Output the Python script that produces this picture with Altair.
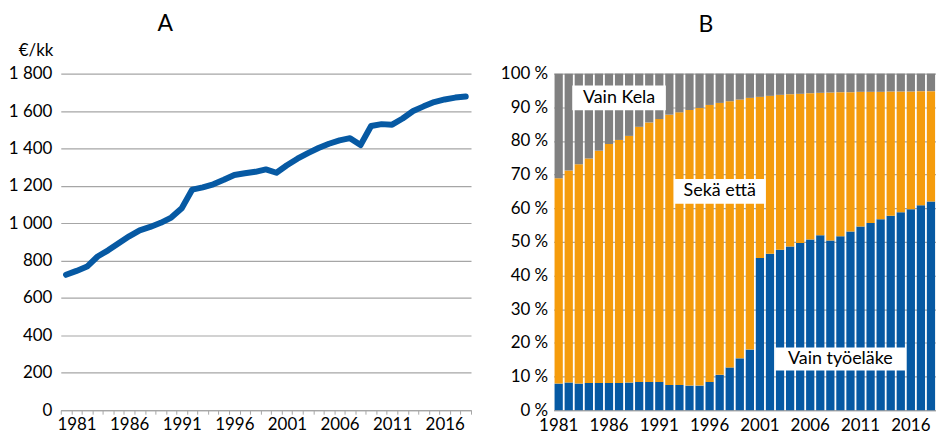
import altair as alt
import pandas as pd

FONT = "Lato"
BLUE = "#0659A3"
ORANGE = "#F59C0C"
GRAY = "#808080"
GRID = "#A6A6A6"

# ---- Panel A: average pension, EUR per month ----
years_a = [str(y) for y in range(1980, 2019)]
eur_kk = [724, 745, 768, 822, 855, 893, 930, 962, 980, 1002,
          1030, 1080, 1180, 1192, 1208, 1232, 1258, 1267, 1275, 1288,
          1270, 1310, 1345, 1375, 1402, 1425, 1443, 1455, 1418, 1520,
          1530, 1527, 1560, 1600, 1625, 1648, 1662, 1672, 1678]
tick_years = ["1981", "1986", "1991", "1996", "2001", "2006", "2011", "2016"]
y_values_a = [0, 200, 400, 600, 800, 1000, 1200, 1400, 1600, 1800]

# ---- Panel B: shares (%) ----
years_b = [str(y) for y in range(1981, 2019)]
vain_tyoelake = [7.9, 8.2, 7.9, 8.1, 8.1, 8.1, 8.1, 8.2, 8.4, 8.4,
                 8.4, 7.5, 7.5, 7.3, 7.3, 8.4, 10.5, 12.7, 15.4, 18.0,
                 45.2, 46.5, 47.7, 48.6, 49.7, 50.7, 52.0, 50.4, 51.7, 53.1,
                 54.6, 55.6, 56.7, 57.8, 58.8, 59.7, 60.9, 62.0]
seka_etta = [61.0, 63.0, 65.2, 66.7, 69.0, 71.0, 72.2, 73.3, 75.8, 77.1,
             78.1, 80.3, 81.0, 81.9, 82.5, 82.3, 80.8, 79.1, 76.9, 74.8,
             47.9, 46.9, 46.0, 45.3, 44.3, 43.5, 42.3, 44.0, 42.8, 41.4,
             40.0, 39.0, 37.9, 36.9, 35.9, 35.0, 33.9, 32.8]
vain_kela = [31.1, 28.8, 26.9, 25.2, 22.9, 20.9, 19.7, 18.5, 15.8, 14.5,
             13.5, 12.2, 11.5, 10.8, 10.2, 9.3, 8.7, 8.2, 7.7, 7.2,
             6.9, 6.6, 6.3, 6.1, 6.0, 5.8, 5.7, 5.6, 5.5, 5.5,
             5.4, 5.4, 5.4, 5.3, 5.3, 5.3, 5.2, 5.2]
series_names = ["Vain työeläke", "Sekä että", "Vain Kela"]
series_colors = [BLUE, ORANGE, GRAY]
y_values_b = [0, 10, 20, 30, 40, 50, 60, 70, 80, 90, 100]

annot_labels = ["Vain Kela", "Sekä että", "Vain työeläke"]
annot_years = ["1987", "1997", "2009"]
annot_pct = [92.8, 65.0, 15.2]
annot_box = {"Vain Kela": (94, 25), "Sekä että": (92, 25), "Vain työeläke": (131, 23)}

tick_list = "[" + ",".join("'" + t + "'" for t in tick_years) + "]"
x_label_expr = f"indexof({tick_list}, datum.label) >= 0 ? datum.label : ''"

# ---------------- Panel A ----------------
df_a = pd.DataFrame({"vuosi": years_a, "eur": eur_kk})

x_a = alt.X(
    "vuosi:O", sort=years_a, title=None,
    scale=alt.Scale(type="band", paddingInner=0, paddingOuter=0),
    axis=alt.Axis(labelExpr=x_label_expr, labelAngle=0, labelOverlap=False,
                  tickBand="extent", ticks=True, tickSize=4, tickColor=GRID,
                  domainColor=GRID, domainWidth=1.2, grid=False, labelPadding=2),
)
y_a = alt.Y(
    "eur:Q",
    scale=alt.Scale(domain=[0, 1800], nice=False, zero=True),
    axis=alt.Axis(values=y_values_a,
                  labelExpr="replace(format(datum.value, ',d'), ',', ' ')",
                  title="€/kk", titleAngle=0, titleAlign="right",
                  titleBaseline="alphabetic", titleX=-8, titleY=-18,
                  domain=False, ticks=False, labelPadding=9,
                  gridColor=GRID, gridWidth=1.2),
)
left = alt.Chart(df_a).mark_line(
    color=BLUE, strokeWidth=6, strokeCap="round", strokeJoin="round"
).encode(x=x_a, y=y_a).properties(
    width=412, height=338,
    title=alt.TitleParams("A", fontSize=23, font=FONT, fontWeight="normal",
                          anchor="middle", frame="group", dx=-101, offset=6),
)

# ---------------- Panel B ----------------
rows = []
for i, yr in enumerate(years_b):
    for j, (name, vals) in enumerate(zip(series_names, [vain_tyoelake, seka_etta, vain_kela])):
        rows.append({"vuosi": yr, "sarja": name, "osuus": vals[i], "jarj": j})
df_b = pd.DataFrame(rows)

x_axis_b = alt.Axis(labelExpr=x_label_expr, labelAngle=0, labelOverlap=False,
                    ticks=False, domainColor=GRID, domainWidth=1.2, grid=False,
                    labelPadding=7)
y_axis_b = alt.Axis(values=y_values_b, labelExpr="datum.value + ' %'", title=None,
                    domain=False, ticks=False, labelPadding=6,
                    gridColor=GRID, gridWidth=1.2)
x_scale_b = alt.Scale(paddingInner=0.18, paddingOuter=0.09)
y_scale_b = alt.Scale(domain=[0, 100], nice=False)

bars = alt.Chart(df_b).mark_bar().encode(
    x=alt.X("vuosi:O", sort=years_b, title=None, scale=x_scale_b, axis=x_axis_b),
    y=alt.Y("osuus:Q", stack="zero", scale=y_scale_b, axis=y_axis_b),
    color=alt.Color("sarja:N", scale=alt.Scale(domain=series_names, range=series_colors),
                    legend=None),
    order=alt.Order("jarj:Q"),
)

ann_df = pd.DataFrame({"teksti": annot_labels, "vuosi": annot_years, "osuus": annot_pct})
x_ann = alt.X("vuosi:O", sort=years_b, title=None, scale=x_scale_b, axis=x_axis_b)
y_ann = alt.Y("osuus:Q", stack=None, scale=y_scale_b, axis=y_axis_b)
layers = [bars]
for lab in annot_labels:
    w, h = annot_box[lab]
    r = h / w
    path = f"M-1,-{r:.4f}L1,-{r:.4f}L1,{r:.4f}L-1,{r:.4f}Z"
    layers.append(
        alt.Chart(ann_df).transform_filter(alt.datum.teksti == lab).mark_point(
            shape=path, size=w * w, filled=True, fill="white", opacity=1, strokeWidth=0
        ).encode(x=x_ann, y=y_ann)
    )
layers.append(
    alt.Chart(ann_df).mark_text(font=FONT, fontSize=18, color="black").encode(
        x=x_ann, y=y_ann, text="teksti:N")
)
right = alt.layer(*layers).properties(
    width=384, height=338,
    title=alt.TitleParams("B", fontSize=23, font=FONT, fontWeight="normal",
                          anchor="middle", frame="group", dx=-39, offset=28),
)

chart = alt.hconcat(left, right, spacing=28).properties(
    padding={"left": 0, "top": 4, "right": 0, "bottom": 0}
).configure_view(
    stroke=None
).configure_axis(
    labelFont=FONT, labelFontSize=17, labelColor="black",
    titleFont=FONT, titleFontSize=17, titleColor="black", titleFontWeight="normal",
).configure_title(color="black")

chart.save("out.html", embed_options={"renderer": "svg", "actions": False})
